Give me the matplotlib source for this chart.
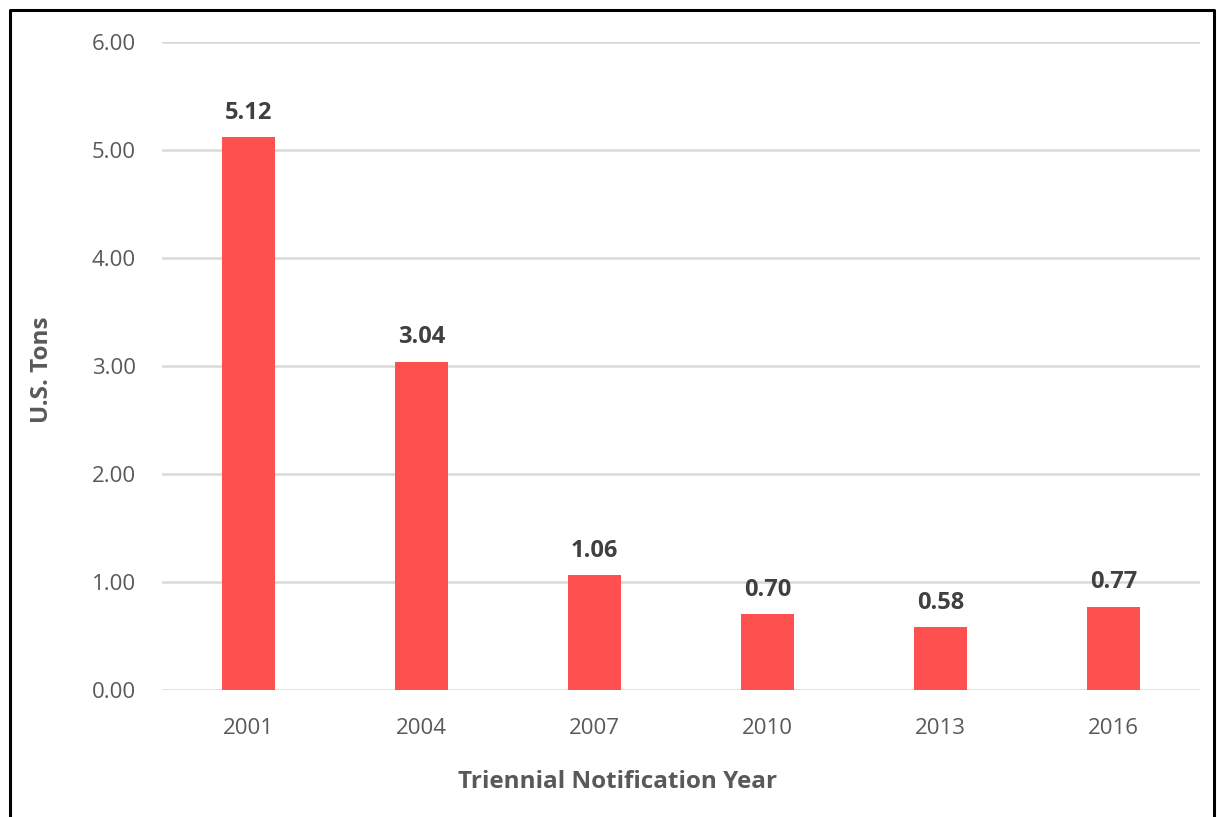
import matplotlib
matplotlib.use("Agg")
import matplotlib.pyplot as plt
from matplotlib.lines import Line2D

years = ["2001", "2004", "2007", "2010", "2013", "2016"]
tons = [5.12, 3.04, 1.06, 0.70, 0.58, 0.77]
yticks = [0, 1, 2, 3, 4, 5, 6]

plt.rcParams['font.family'] = ['Open Sans', 'DejaVu Sans']

W, H = 1217.0, 817.0
fig = plt.figure(figsize=(12.17, 8.17), dpi=100)
ax = fig.add_axes([0.1331, 0.1555, 0.8529, 0.7931])

x = range(len(years))
bars = ax.bar(x, tons, width=0.31, color="#FF5050", zorder=3)
for b, v in zip(bars, tons):
    ax.annotate("%.2f" % v, (b.get_x() + b.get_width() / 2, v),
                xytext=(0, 9), textcoords="offset points",
                ha="center", va="bottom", fontsize=17, fontweight="bold",
                color="#404040")

ax.set_xlim(-0.5, len(years) - 0.5)
ax.set_ylim(0, 6)
ax.set_yticks(yticks)
ax.set_yticklabels(["%.2f" % t for t in yticks])
ax.set_xticks(list(x))
ax.set_xticklabels(years)
ax.tick_params(axis="both", length=0, labelsize=16, colors="#595959")
ax.tick_params(axis="y", pad=19)
ax.tick_params(axis="x", pad=20)
ax.grid(axis="y", color="#D9D9D9", linewidth=1.8, zorder=0)
for s in ax.spines.values():
    s.set_visible(False)

# axis titles placed like the Excel chart (x title centred on the chart area)
fig.text(42 / W, 1 - 370 / H, "U.S. Tons", rotation=90, ha="center", va="center",
         fontsize=17.5, fontweight="bold", color="#595959")
fig.text(618 / W, 1 - 782 / H, "Triennial Notification Year", ha="center", va="center",
         fontsize=17.5, fontweight="bold", color="#595959")

# outer frame (left, top, right)
fx = [10 / W, 10 / W, 1214 / W, 1214 / W]
fy = [0, 1 - 10 / H, 1 - 10 / H, 0]
fig.add_artist(Line2D(fx, fy, color="black", linewidth=2.2, transform=fig.transFigure))

fig.savefig("out.png", dpi=100)
